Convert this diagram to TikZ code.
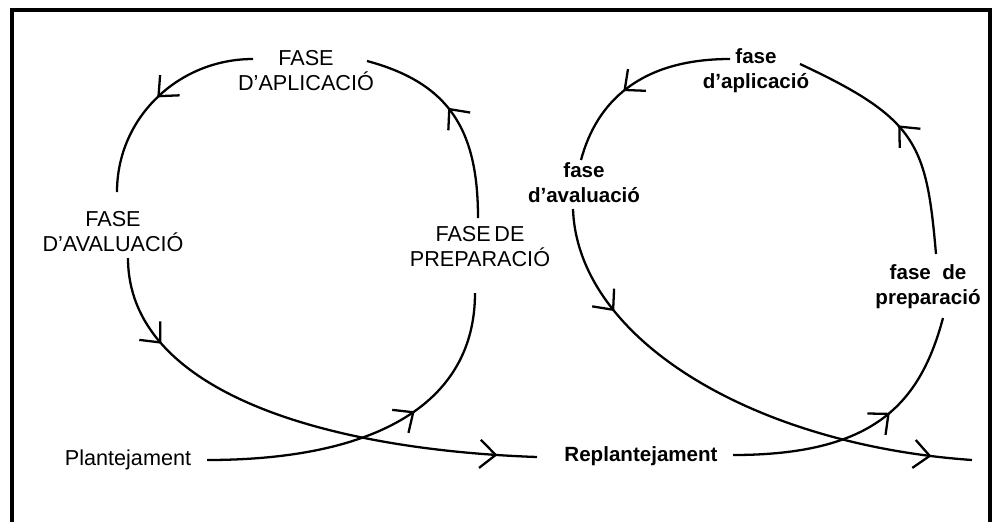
\documentclass[tikz,border=0pt]{standalone}
\usepackage{fontspec}
\setmainfont{Liberation Sans}
\usetikzlibrary{arrows.meta,decorations.markings}

\begin{document}
\begin{tikzpicture}[
  flow/.style={line width=1.3pt},
  tip/.style={postaction={decorate,decoration={markings,
    mark=at position #1 with {\arrow{Straight Barb[length=9pt,width=16pt,line width=1.3pt]}}}}},
  capsl/.style={align=center,inner sep=0pt,font=\fontsize{12.3}{14.2}\selectfont},
  lowl/.style={align=center,inner sep=0pt,font=\fontsize{11.7}{14.2}\selectfont\bfseries}
]
\useasboundingbox (0,0) rectangle (19.86,-10.44);
% frame, open at the bottom
\draw[line width=2.3pt] (0.24,-10.44) -- (0.24,-0.2) -- (19.8,-0.2) -- (19.8,-10.44);

% left cycle
\node[capsl] (apl) at (6.12,-1.42) {FASE\\D’APLICACIÓ};
\node[capsl] (aval) at (2.26,-4.64) {FASE\\D’AVALUACIÓ};
\node[capsl] (prep) at (9.6,-4.94) {FASE\,DE\\PREPARACIÓ};
\node[capsl] (plant) at (2.56,-9.2) {Plantejament};
\coordinate (lend) at (10.74,-9.14);

\draw[flow,tip=0.5] ([shift={(-1.06,0.24)}]apl.center) to[out=180,in=90] ([shift={(0.08,0.8)}]aval.center);
\draw[flow,tip=0.19,tip=0.92] ([shift={(0.3,-0.52)}]aval.center) to[out=-90,in=178,out distance=2.64cm,in distance=4.34cm] (lend);
\draw[flow,tip=0.61] ([shift={(1.58,0)}]plant.center) to[out=0,in=-90,out distance=3.4cm,in distance=2.2cm] ([shift={(-0.1,-0.92)}]prep.center);
\draw[flow,tip=0.55] ([shift={(-0.04,0.58)}]prep.center) to[out=90,in=-15,looseness=1.15] ([shift={(1.22,0.2)}]apl.center);

% right cycle
\node[lowl] (apl2) at (15.12,-1.42) {fase\\d’aplicació};
\node[lowl] (aval2) at (11.68,-3.66) {fase\\d’avaluació};
\node[lowl] (prep2) at (18.56,-5.74) {fase\ \ de\\preparació};
\node[lowl] (repl) at (12.82,-9.12) {Replantejament};
\coordinate (rend) at (19.44,-9.2);

\draw[flow,tip=0.58] ([shift={(-0.52,0.24)}]apl2.center) to[out=180,in=75,out distance=1.8cm,in distance=1.2cm] ([shift={(-0.06,0.46)}]aval2.center);
\draw[flow,tip=0.22,tip=0.92] ([shift={(-0.22,-0.52)}]aval2.center) to[out=-88,in=176,out distance=2.6cm,in distance=4.4cm] (rend);
\draw[flow,tip=0.6] ([shift={(1.84,0.02)}]repl.center) to[out=0,in=-105,out distance=2.8cm,in distance=1.8cm] ([shift={(0.3,-0.62)}]prep2.center);
\draw[flow,tip=0.54] ([shift={(0.16,0.66)}]prep2.center) to[out=95,in=-25,out distance=2.2cm,in distance=2.6cm] ([shift={(0.88,0.14)}]apl2.center);
\end{tikzpicture}
\end{document}
